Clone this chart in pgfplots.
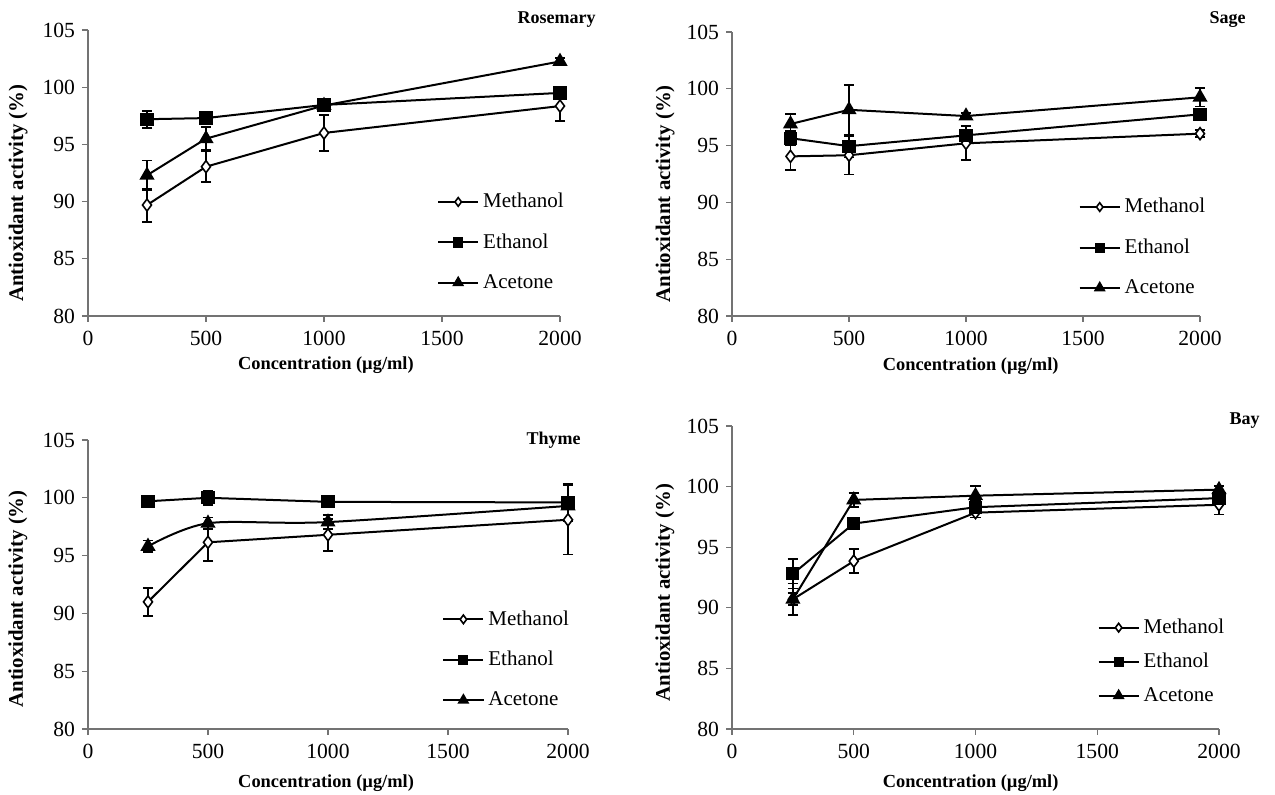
\documentclass[border=0pt]{standalone}
\usepackage{fontspec}
\setmainfont{Liberation Serif}
\usepackage{pgfplots}
\pgfplotsset{compat=1.18}

\pgfplotsset{
  panel/.style={
    scale only axis, anchor=south west,
    xmin=0, xmax=2000, ymin=80, ymax=105,
    xtick={0,500,...,2000}, ytick={80,85,...,105},
    axis x line=bottom, axis y line=left,
    axis line style={-, draw=black!55, line width=0.6pt},
    tick style={draw=black!55, line width=0.6pt},
    tick align=outside, major tick length=3pt,
    /pgf/number format/assume math mode=true,
    /pgf/number format/1000 sep={},
    tick label style={font=\fontsize{10.8}{12}\selectfont},
    xticklabel style={yshift=-1pt},
    xlabel={Concentration (µg/ml)},
    ylabel={Antioxidant activity (\%)},
    xlabel style={font=\bfseries\fontsize{9.2}{11}\selectfont, anchor=center},
    ylabel style={font=\bfseries\fontsize{10.4}{12}\selectfont, anchor=center, rotate=0},
    clip=false,
    legend style={draw=none, fill=none, inner sep=0pt, anchor=north west,
      font=\fontsize{10.5}{12}\selectfont, row sep=7.5pt},
    legend cell align=left,
    legend image code/.code={\draw[mark repeat=2,mark phase=2,#1,
      every mark/.append style={scale=0.72}]
      plot coordinates {(0pt,0pt)(10pt,0pt)(20pt,0pt)};},
  },
  pl/.style={black, line width=1pt,
    error bars/y dir=both, error bars/y explicit,
    error bars/error bar style={line width=0.9pt},
    error bars/error mark options={rotate=90, mark size=2.6pt, line width=0.9pt}},
  meth/.style={pl, mark=diamond*, mark size=3pt, mark options={fill=white, line width=0.8pt}},
  eth/.style={pl, mark=square*, mark size=2.8pt, mark options={fill=black}},
  acet/.style={pl, mark=triangle*, mark size=3.4pt, mark options={fill=black}},
}
\tikzset{ttl/.style={anchor=east, inner sep=0pt, font=\bfseries\fontsize{9}{11}\selectfont}}

\begin{document}
\begin{tikzpicture}
\useasboundingbox (0,0) rectangle (637.5pt,-397.5pt);

% Rosemary
\begin{axis}[panel, at={(44pt,-158pt)}, width=236pt, height=143pt,
  xlabel style={at={(axis description cs:0.504,-0.171)}},
  ylabel style={at={(axis description cs:-0.148,0.43)}},
  legend style={at={(0.739,0.445)}}]
\addplot+[meth] coordinates {(250,89.7) +- (0,1.45) (500,93.05) +- (0,1.35) (1000,96.0) +- (0,1.6) (2000,98.35) +- (0,1.3)};
\addplot+[eth] coordinates {(250,97.2) +- (0,0.75) (500,97.3) +- (0,0.3) (1000,98.45) +- (0,0.4) (2000,99.5) +- (0,0.3)};
\addplot+[acet] coordinates {(250,92.3) +- (0,1.3) (500,95.5) +- (0,1.0) (1000,98.4) +- (0,0.3) (2000,102.25) +- (0,0.3)};
\legend{Methanol, Ethanol, Acetone}
\end{axis}

% Sage
\begin{axis}[panel, at={(366pt,-158pt)}, width=234pt, height=142pt,
  xlabel style={at={(axis description cs:0.51,-0.176)}},
  ylabel style={at={(axis description cs:-0.143,0.43)}},
  legend style={at={(0.74,0.43)}}]
\addplot+[meth] coordinates {(250,94.05) +- (0,1.2) (500,94.15) +- (0,1.7) (1000,95.2) +- (0,1.5) (2000,96.05) +- (0,0.3)};
\addplot+[eth] coordinates {(250,95.65) +- (0,0.6) (500,94.95) +- (0,1.0) (1000,95.9) +- (0,0.4) (2000,97.75) +- (0,0.5)};
\addplot+[acet] coordinates {(250,96.9) +- (0,0.9) (500,98.15) +- (0,2.2) (1000,97.6) +- (0,0.3) (2000,99.25) +- (0,0.8)};
\legend{Methanol, Ethanol, Acetone}
\end{axis}

% Thyme
\begin{axis}[panel, at={(44pt,-364.5pt)}, width=240pt, height=144.5pt,
  xlabel style={at={(axis description cs:0.496,-0.187)}},
  ylabel style={at={(axis description cs:-0.146,0.45)}},
  legend style={at={(0.7375,0.425)}}]
\addplot+[meth] coordinates {(250,91.0) +- (0,1.2) (500,96.15) +- (0,1.6) (1000,96.8) +- (0,1.4) (2000,98.1) +- (0,3.0)};
\addplot+[eth] coordinates {(250,99.7) +- (0,0.3) (500,100.0) +- (0,0.6) (1000,99.65) +- (0,0.2) (2000,99.6) +- (0,1.6)};
\addplot+[acet, smooth] coordinates {(250,95.8) +- (0,0.5) (500,97.8) +- (0,0.5) (1000,97.9) +- (0,0.6) (2000,99.3) +- (0,0.3)};
\legend{Methanol, Ethanol, Acetone}
\end{axis}

% Bay
\begin{axis}[panel, at={(366pt,-364.5pt)}, width=243.5pt, height=151.5pt,
  xlabel style={at={(axis description cs:0.49,-0.178)}},
  ylabel style={at={(axis description cs:-0.138,0.45)}},
  legend style={at={(0.75,0.378)}, row sep=4.3pt}]
\addplot+[meth] coordinates {(250,90.7) +- (0,0.5) (500,93.85) +- (0,1.0) (1000,97.85) +- (0,0.4) (2000,98.5) +- (0,0.8)};
\addplot+[eth] coordinates {(250,92.8) +- (0,1.2) (500,96.95) +- (0,0.3) (1000,98.3) +- (0,0.5) (2000,99.05) +- (0,0.3)};
\addplot+[acet] coordinates {(250,90.7) +- (0,1.3) (500,98.9) +- (0,0.6) (1000,99.25) +- (0,0.8) (2000,99.75) +- (0,0.3)};
\legend{Methanol, Ethanol, Acetone}
\end{axis}

\node[ttl] at (298pt,-10pt) {Rosemary};
\node[ttl] at (623pt,-10pt) {Sage};
\node[ttl] at (290.5pt,-220pt) {Thyme};
\node[ttl] at (630pt,-210.5pt) {Bay};
\end{tikzpicture}
\end{document}
